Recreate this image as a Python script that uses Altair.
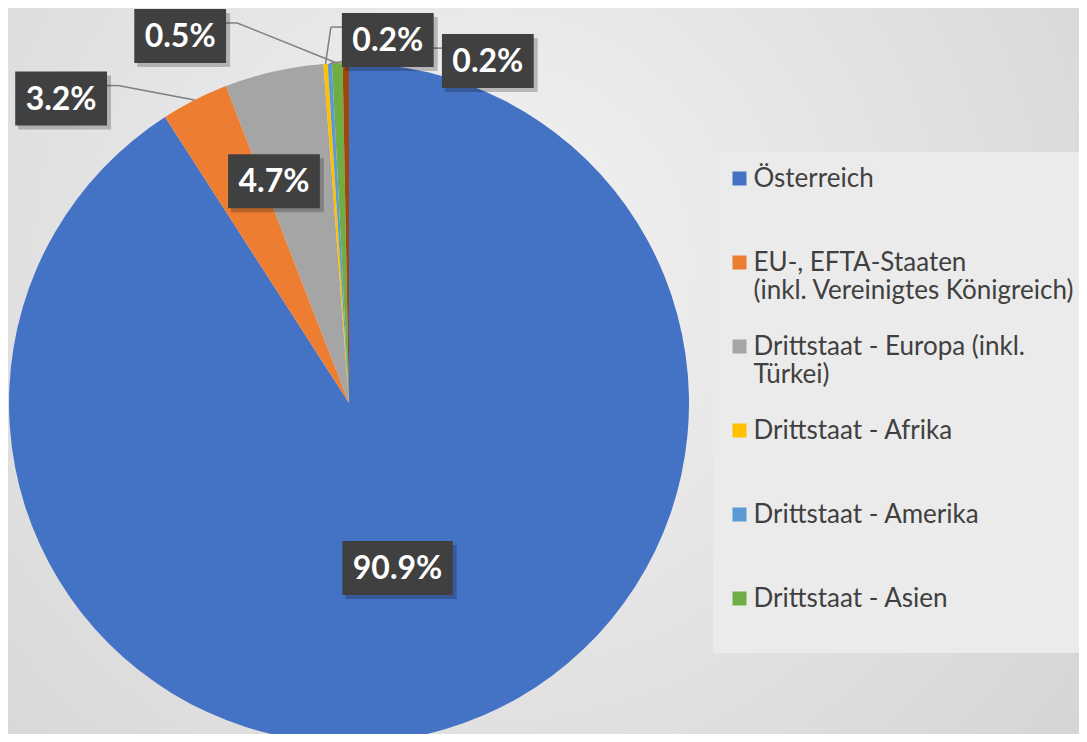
import altair as alt
import pandas as pd
import numpy as np

# ---------------- data ----------------
categories = [
    "Österreich",
    "EU-, EFTA-Staaten|(inkl. Vereinigtes Königreich)",
    "Drittstaat - Europa (inkl.|Türkei)",
    "Drittstaat - Afrika",
    "Drittstaat - Amerika",
    "Drittstaat - Asien",
    "Sonstige",
]
values = [90.9, 3.2, 4.7, 0.2, 0.2, 0.5, 0.3]
colors = ["#4472C4", "#ED7D31", "#A5A5A5", "#FFC000", "#5B9BD5", "#70AD47", "#9E480E"]
in_legend = [True, True, True, True, True, True, False]
labelled = [True, True, True, True, True, True, False]

# ---------------- layout ----------------
W, H = 1071, 726
CX, CY, R = 341, 395, 340
# label box centre in polar terms around pie centre: (angle clockwise from 12 o'clock, distance)
label_polar = {0: (163.6, 172), 1: (316.6, 419), 2: (341.3, 234),
               3: (6.1, 365), 4: (22.1, 369), 5: (335.3, 404)}
BOX_H = 54


def text_w(s):
    return sum(18.6 if c.isdigit() else 8 if c == "." else 26.6 for c in s)


df = pd.DataFrame({"cat": categories, "value": values, "idx": range(len(values))})
total = sum(values)
cum = np.cumsum([0] + values)

lab_rows, seg_rows = [], []
for i, v in enumerate(values):
    if not labelled[i]:
        continue
    mid = (cum[i] + cum[i + 1]) / 2 / total * 2 * np.pi
    ax, ay = CX + R * np.sin(mid), CY - R * np.cos(mid)
    ang, rr = label_polar[i]
    a = np.radians(ang)
    bx, by = CX + rr * np.sin(a), CY - rr * np.cos(a)
    txt = f"{v:.1f}%"
    bw = text_w(txt) + 20
    lab_rows.append({"text": txt, "x": bx, "y": by, "bx1": bx - bw / 2, "bx2": bx + bw / 2,
                     "by1": by - BOX_H / 2, "by2": by + BOX_H / 2,
                     "sx1": bx - bw / 2 + 3, "sx2": bx + bw / 2 + 4,
                     "sy1": by - BOX_H / 2 + 4, "sy2": by + BOX_H / 2 + 4})
    if rr > R:
        if bx < ax:
            px, ex = bx + bw / 2, bx + bw / 2 + 11
        else:
            px, ex = bx - bw / 2, bx - bw / 2 - 11
        py = by - BOX_H / 2 + 14
        seg_rows.append({"x": px, "y": py, "x2": ex, "y2": py})
        seg_rows.append({"x": ex, "y": py, "x2": ax, "y2": ay})

labs = pd.DataFrame(lab_rows)
segs = pd.DataFrame(seg_rows)

xs = alt.Scale(domain=[0, W], nice=False, zero=False)
ys = alt.Scale(domain=[0, H], nice=False, zero=False, reverse=True)

bg = alt.Chart(pd.DataFrame({"a": [0]})).mark_rect(
    color=alt.RadialGradient(
        gradient="radial",
        stops=[alt.GradientStop(offset=0, color="#f3f3f3"),
               alt.GradientStop(offset=1, color="#d2d2d2")],
        x1=0.45, y1=0.4, x2=0.45, y2=0.4, r1=0, r2=0.78),
).encode(x=alt.value(0), x2=alt.value(W), y=alt.value(0), y2=alt.value(H))

legend_vals = [c for c, k in zip(categories, in_legend) if k]

pie = alt.Chart(df).mark_arc(radius=R, strokeWidth=0).encode(
    theta=alt.Theta("value:Q", stack=True),
    color=alt.Color(
        "cat:N",
        scale=alt.Scale(domain=categories, range=colors),
        legend=alt.Legend(
            values=legend_vals,
            title=None,
            orient="none",
            legendX=705,
            legendY=144,
            padding=13.5,
            fillColor="#ebebeb",
            labelFont="Lato",
            labelFontSize=26,
            labelColor="#404040",
            labelLimit=0,
            labelOffset=1,
            labelBaseline="middle",
            rowPadding=30,
            symbolSize=196,
            symbolType="square",
            symbolStrokeWidth=0,
            labelExpr="split(datum.label + (indexof(datum.label, '|') < 0 ? '| ' : ''), '|')",
        ),
    ),
    order=alt.Order("idx:Q"),
    x=alt.value(CX),
    y=alt.value(CY),
)

lines = alt.Chart(segs).mark_rule(color="#7f7f7f", strokeWidth=1.5).encode(
    x=alt.X("x:Q", scale=xs, axis=None), y=alt.Y("y:Q", scale=ys, axis=None),
    x2="x2:Q", y2="y2:Q")

shadow = alt.Chart(labs).mark_rect(color="#000000", opacity=0.22).encode(
    x=alt.X("sx1:Q", scale=xs, axis=None), x2="sx2:Q",
    y=alt.Y("sy1:Q", scale=ys, axis=None), y2="sy2:Q")

boxes = alt.Chart(labs).mark_rect(color="#404040").encode(
    x=alt.X("bx1:Q", scale=xs, axis=None), x2="bx2:Q",
    y=alt.Y("by1:Q", scale=ys, axis=None), y2="by2:Q")

texts = alt.Chart(labs).mark_text(
    font="Lato", fontWeight="bold", fontSize=32, color="white",
    align="center", baseline="middle", dy=1,
).encode(x=alt.X("x:Q", scale=xs, axis=None), y=alt.Y("y:Q", scale=ys, axis=None), text="text:N")

chart = alt.layer(bg, pie, lines, shadow, boxes, texts).properties(
    width=W, height=H,
    autosize=alt.AutoSizeParams(type="none"),
    padding=0,
).configure_view(stroke=None)

chart.save("out.html", embed_options={"renderer": "svg", "actions": False})
